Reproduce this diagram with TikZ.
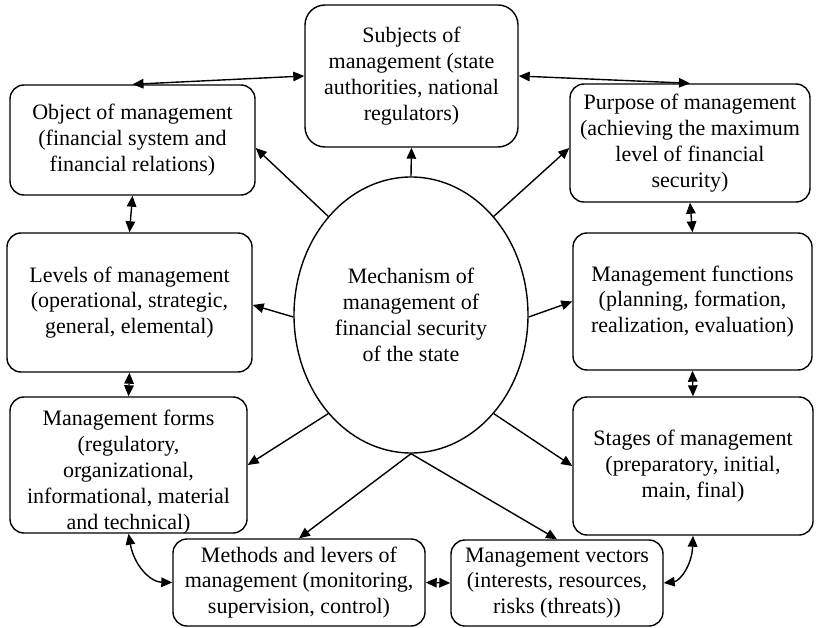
\documentclass[tikz,border=0pt]{standalone}
\usepackage{fontspec}
\setmainfont{Liberation Serif}
\usetikzlibrary{shapes.geometric,arrows.meta}
\begin{document}
\begin{tikzpicture}[x=1pt,y=-1pt,
  box/.style={draw, line width=1.4pt, rounded corners=14pt, inner sep=0pt, align=center,
    font=\fontsize{22}{25.8}\selectfont},
  txt/.style={inner sep=0pt, align=center, font=\fontsize{22}{25.8}\selectfont},
  tip/.tip={Triangle[length=11pt,width=9.5pt]},
  arr/.style={line width=1.4pt, -tip},
  darr/.style={line width=1.4pt, tip-tip}]
\useasboundingbox (0,0) rectangle (816,628);

\node[box, rounded corners=20pt, minimum width=213pt, minimum height=142pt] (sub) at (411.5,76)
  {Subjects of\\management (state\\authorities, national\\regulators)};
\node[box, minimum width=245pt, minimum height=110pt] (obj) at (132.5,140)
  {Object of management\\(financial system and\\financial relations)};
\node[box, minimum width=240pt, minimum height=118pt] (pur) at (690,143)
  {Purpose of management\\(achieving the maximum\\level of financial\\security)};
\node[box, minimum width=245pt, minimum height=139pt] (lev) at (129.5,302.5)
  {Levels of management\\(operational, strategic,\\general, elemental)};
\node[box, minimum width=239pt, minimum height=137pt] (fun) at (692.5,301.5)
  {Management functions\\(planning, formation,\\realization, evaluation)};
\node[box, minimum width=237pt, minimum height=136pt] (frm) at (128.5,465) {};
\node[txt] (frmt) at (128.5,472)
  {Management forms\\(regulatory,\\organizational,\\informational, material\\and technical)};
\node[box, minimum width=240pt, minimum height=138pt] (stg) at (693,466)
  {Stages of management\\(preparatory, initial,\\main, final)};
\node[box, minimum width=252pt, minimum height=87pt] (met) at (299,582.5)
  {Methods and levers of\\management (monitoring,\\supervision, control)};
\node[box, minimum width=212pt, minimum height=86pt] (vec) at (557,583)
  {Management vectors\\(interests, resources,\\risks (threats))};
\node[draw, ellipse, line width=1.4pt, minimum width=234pt, minimum height=276pt, inner sep=0pt,
  align=center, font=\fontsize{22}{25.8}\selectfont] (ell) at (411,315)
  {Mechanism of\\management of\\financial security\\of the state};

% connectors between boxes
\draw[darr] (obj.north) -- (sub.west);
\draw[darr] (sub.east) -- (pur.north);
\draw[darr] (obj.south) -- (lev.north);
\draw[darr] (pur.south) -- (fun.north);
\draw[darr] (lev.south) -- (frm.north);
\draw[darr] (fun.south) -- (stg.north);
\draw[darr] (met.east) -- (vec.west);
\draw[darr] (frm.south) .. controls (134,565) and (150,582) .. (met.west);
\draw[darr] (stg.south) .. controls (692,565) and (680,581) .. (vec.east);

% connectors from the ellipse
\draw[arr] (ell.north) -- (sub.south);
\draw[arr] (ell.130) -- ([yshift=-8pt]obj.east);
\draw[arr] (ell.50) -- ([yshift=-5pt]pur.west);
\draw[arr] ([yshift=-2pt]ell.west) -- ([yshift=-2.5pt]lev.east);
\draw[arr] ([yshift=-2pt]ell.east) -- (fun.west);
\draw[arr] (ell.230) -- (frm.east);
\draw[arr] (ell.310) -- (stg.west);
\draw[arr] (ell.south) -- (met.north);
\draw[arr] (ell.south) -- (vec.north);
\end{tikzpicture}
\end{document}
